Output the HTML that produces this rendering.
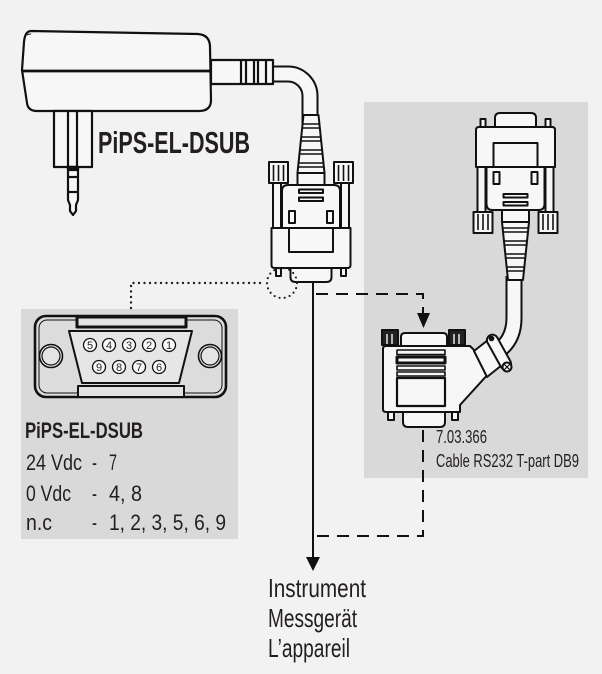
<!DOCTYPE html>
<html><head><meta charset="utf-8"><style>
html,body{margin:0;padding:0;background:#f2f2f2;}
svg{display:block;}
text{font-family:"Liberation Sans Narrow","Liberation Sans",sans-serif;fill:#231f20;}
</style></head><body>
<svg width="602" height="674" viewBox="0 0 602 674" xmlns="http://www.w3.org/2000/svg">
<rect x="0" y="0" width="602" height="674" fill="#f2f2f2"/>
<!-- panels -->
<rect x="364" y="102" width="224" height="376" fill="#d9d9d9"/>
<rect x="21" y="309" width="217" height="230" fill="#d9d9d9"/>

<!-- adapter cable -->
<path d="M268,74 H288 A22,22 0 0 1 310,96 V124" fill="none" stroke="#111" stroke-width="17"/>
<path d="M268,74 H288 A22,22 0 0 1 310,96 V124" fill="none" stroke="#f7f7f7" stroke-width="13"/>

<!-- adapter body -->
<g fill="#f7f7f7" stroke="#111" stroke-width="2.2" stroke-linejoin="round">
<path d="M31,31 L198,34 Q210,35 210,47 L211,100 Q211,111 199,111 L37,111 Q28,111 27,103 L22,70 L24,42 Q25,31 31,31 Z"/>
<path d="M27,35 Q28,34 31,34" fill="none" stroke-width="1"/>
<line x1="22" y1="71" x2="211" y2="71" stroke-width="2.8"/>
<!-- strain relief -->
<rect x="211" y="60" width="62" height="24"/>
<line x1="241" y1="60" x2="241" y2="84"/>
<line x1="246" y1="60" x2="246" y2="84"/>
<line x1="254" y1="60" x2="254" y2="84"/>
<line x1="258" y1="60" x2="258" y2="84"/>
<line x1="266" y1="60" x2="266" y2="84"/>
<!-- prong -->
<rect x="54" y="111" width="38" height="56"/>
<line x1="68" y1="111" x2="68" y2="167"/>
<line x1="77" y1="111" x2="77" y2="167"/>
<path d="M68,167 V200 L70,205 V211 L73,215 L76,211 V205 L78,200 V167 Z"/>
<rect x="68" y="167" width="10" height="3" fill="#111"/>
<line x1="68" y1="177" x2="78" y2="177"/>
<line x1="68" y1="192" x2="78" y2="192"/>
</g>

<text x="98" y="153" font-size="31" font-weight="700" textLength="152" lengthAdjust="spacingAndGlyphs">PiPS-EL-DSUB</text>

<!-- dotted connector -->
<path d="M131,308 V283 H265" fill="none" stroke="#222" stroke-width="2.4" stroke-dasharray="0 5.5" stroke-linecap="round"/>

<!-- solid line to instrument -->
<line x1="313" y1="280" x2="313" y2="560" stroke="#111" stroke-width="2"/>
<polygon points="306,557 320,557 313,571" fill="#111"/>

<!-- dashed lines -->
<g stroke="#111" stroke-width="2" fill="none" stroke-dasharray="12 8">
<path d="M316,294 H423 V316"/>
<path d="M423,430 V536 H314"/>
</g>
<polygon points="417,313 430,313 423.5,328" fill="#111"/>

<!-- left D-sub connector (plug down) -->
<g transform="translate(311,282) scale(1,-1)" fill="#f7f7f7" stroke="#111" stroke-width="2" stroke-linejoin="round">
<path d="M-13.5,109 L13.5,109 L7.5,167 L-7.5,167 Z"/>
<g stroke-width="1.5">
<line x1="-12.9" y1="115" x2="12.9" y2="115"/><line x1="-12.5" y1="119" x2="12.5" y2="119"/>
<line x1="-11.5" y1="128" x2="11.5" y2="128"/><line x1="-11.1" y1="132" x2="11.1" y2="132"/>
<line x1="-10.2" y1="141" x2="10.2" y2="141"/><line x1="-9.8" y1="145" x2="9.8" y2="145"/>
<line x1="-8.8" y1="154" x2="8.8" y2="154"/><line x1="-8.4" y1="158" x2="8.4" y2="158"/>
</g>
<rect x="-13.5" y="96" width="27" height="13"/>
<rect x="-38" y="54" width="8" height="46"/>
<rect x="30" y="54" width="8" height="46"/>
<rect x="-42" y="99" width="19" height="21"/>
<rect x="23" y="99" width="19" height="21"/>
<g stroke-width="1.6">
<line x1="-37.5" y1="101" x2="-37.5" y2="117"/><line x1="-32.5" y1="101" x2="-32.5" y2="117"/><line x1="-27.5" y1="101" x2="-27.5" y2="117"/>
<line x1="27.5" y1="101" x2="27.5" y2="117"/><line x1="32.5" y1="101" x2="32.5" y2="117"/><line x1="37.5" y1="101" x2="37.5" y2="117"/>
</g>
<path d="M-29,54 H29 V91 Q29,97 23,97 H-23 Q-29,97 -29,91 Z"/>
<rect x="-22" y="59" width="6" height="12"/>
<rect x="16" y="59" width="6" height="12"/>
<rect x="-12" y="81" width="24" height="3.5"/>
<rect x="-12" y="89" width="24" height="3.5"/>
<path d="M-39.5,54 V17 Q-39.5,14 -36.5,14 H36.5 Q39.5,14 39.5,17 V54 Z"/>
<rect x="-22" y="30" width="44" height="24"/>
<rect x="-35" y="6" width="5" height="8"/>
<rect x="30" y="6" width="5" height="8"/>
<path d="M-20.5,14 V5 Q-20.5,0 -15.5,0 H15.5 Q20.5,0 20.5,5 V14 Z"/>
</g>

<!-- dotted circle -->
<circle cx="282" cy="283" r="15" fill="none" stroke="#222" stroke-width="2.2" stroke-dasharray="0 5.2" stroke-linecap="round"/>

<!-- right cable -->
<path d="M493,354 Q514,343 514,318 V276" fill="none" stroke="#111" stroke-width="17"/>
<path d="M493,354 Q514,343 514,318 V276" fill="none" stroke="#f7f7f7" stroke-width="13"/>

<!-- right D-sub connector (plug up) -->
<g transform="translate(515.5,113)" fill="#f7f7f7" stroke="#111" stroke-width="2" stroke-linejoin="round">
<path d="M-13.5,109 L13.5,109 L7.5,167 L-7.5,167 Z"/>
<g stroke-width="1.5">
<line x1="-12.9" y1="115" x2="12.9" y2="115"/><line x1="-12.5" y1="119" x2="12.5" y2="119"/>
<line x1="-11.5" y1="128" x2="11.5" y2="128"/><line x1="-11.1" y1="132" x2="11.1" y2="132"/>
<line x1="-10.2" y1="141" x2="10.2" y2="141"/><line x1="-9.8" y1="145" x2="9.8" y2="145"/>
<line x1="-8.8" y1="154" x2="8.8" y2="154"/><line x1="-8.4" y1="158" x2="8.4" y2="158"/>
</g>
<rect x="-13.5" y="96" width="27" height="13"/>
<rect x="-38" y="54" width="8" height="46"/>
<rect x="30" y="54" width="8" height="46"/>
<rect x="-42" y="99" width="19" height="21"/>
<rect x="23" y="99" width="19" height="21"/>
<g stroke-width="1.6">
<line x1="-37.5" y1="101" x2="-37.5" y2="117"/><line x1="-32.5" y1="101" x2="-32.5" y2="117"/><line x1="-27.5" y1="101" x2="-27.5" y2="117"/>
<line x1="27.5" y1="101" x2="27.5" y2="117"/><line x1="32.5" y1="101" x2="32.5" y2="117"/><line x1="37.5" y1="101" x2="37.5" y2="117"/>
</g>
<path d="M-29,54 H29 V91 Q29,97 23,97 H-23 Q-29,97 -29,91 Z"/>
<rect x="-22" y="59" width="6" height="12"/>
<rect x="16" y="59" width="6" height="12"/>
<rect x="-12" y="81" width="24" height="3.5"/>
<rect x="-12" y="89" width="24" height="3.5"/>
<path d="M-39.5,54 V17 Q-39.5,14 -36.5,14 H36.5 Q39.5,14 39.5,17 V54 Z"/>
<rect x="-22" y="30" width="44" height="24"/>
<rect x="-35" y="6" width="5" height="8"/>
<rect x="30" y="6" width="5" height="8"/>
<path d="M-20.5,14 V5 Q-20.5,0 -15.5,0 H15.5 Q20.5,0 20.5,5 V14 Z"/>
</g>

<!-- T-part connector -->
<g fill="#f7f7f7" stroke="#111" stroke-width="2" stroke-linejoin="round">
<rect x="382" y="330" width="16" height="15" fill="#222"/>
<rect x="449" y="330" width="16" height="15" fill="#222"/>
<g stroke="#e8e8e8" stroke-width="1.5">
<line x1="387" y1="334" x2="387" y2="344"/><line x1="392" y1="334" x2="392" y2="344"/>
<line x1="454" y1="334" x2="454" y2="344"/><line x1="459" y1="334" x2="459" y2="344"/>
</g>
<path d="M401,346 V337 Q401,333 405,333 H443 Q447,333 447,337 V346 Z"/>
<path d="M386,346 H470 L478,354 L490,372 L460,405 V412 H386 Q383,412 383,409 V349 Q383,346 386,346 Z"/>
<polygon points="474,351 488,340 502,365 487,377"/>
<rect x="397" y="350" width="48" height="4.5" stroke-width="1.6"/>
<rect x="397" y="357" width="48" height="6" stroke-width="3"/>
<rect x="397" y="366" width="48" height="4" stroke-width="1.6"/>
<rect x="397" y="372" width="48" height="4" stroke-width="1.6"/>
<rect x="397" y="378" width="48" height="28" stroke-width="2.2"/>
<rect x="388" y="412" width="6" height="8"/>
<rect x="452" y="412" width="6" height="8"/>
<path d="M403,412 V422 Q403,427 408,427 H440 Q445,427 445,422 V412 Z"/>
<rect x="-19" y="-5.5" width="38" height="11" rx="5.5" transform="translate(499,352) rotate(61)"/>
<circle cx="491.5" cy="338.5" r="1.8" fill="#111"/>
<circle cx="507" cy="367" r="4.5"/>
<line x1="504" y1="364" x2="510" y2="370" stroke-width="1.2"/>
<line x1="510" y1="364" x2="504" y2="370" stroke-width="1.2"/>
</g>

<text x="436" y="443" font-size="18" textLength="51" lengthAdjust="spacingAndGlyphs">7.03.366</text>
<text x="436" y="467" font-size="18" textLength="143" lengthAdjust="spacingAndGlyphs">Cable RS232 T-part DB9</text>

<!-- DB9 pinout drawing -->
<g stroke="#111" stroke-linejoin="round">
<rect x="35" y="316" width="191" height="81" rx="11" fill="#dcdcdc" stroke-width="2.6"/>
<rect x="39" y="320" width="183" height="73" rx="8" fill="none" stroke-width="1"/>
<circle cx="51" cy="356" r="11.5" fill="#e4e4e4" stroke-width="1.6"/>
<circle cx="51" cy="356" r="9" fill="none" stroke-width="1.2"/>
<circle cx="210" cy="356" r="11.5" fill="#e4e4e4" stroke-width="1.6"/>
<circle cx="210" cy="356" r="9" fill="none" stroke-width="1.2"/>
<polygon points="69,331 192,331 179,383 82,383" fill="#e6e6e6" stroke-width="2" stroke-linejoin="round"/>
<rect x="77" y="317" width="109" height="10" fill="#e2e2e2" stroke-width="3"/>
<rect x="78" y="386" width="106" height="11" fill="#e2e2e2" stroke-width="2"/>
<g fill="#fafafa" stroke-width="1.3">
<circle cx="90" cy="345" r="6.5"/><circle cx="109" cy="345" r="6.5"/><circle cx="129" cy="345" r="6.5"/><circle cx="149" cy="345" r="6.5"/><circle cx="169" cy="345" r="6.5"/>
<circle cx="99" cy="367" r="6.5"/><circle cx="119" cy="367" r="6.5"/><circle cx="139" cy="367" r="6.5"/><circle cx="159" cy="367" r="6.5"/>
</g>
</g>
<g font-size="11" text-anchor="middle">
<text x="90" y="349">5</text><text x="109" y="349">4</text><text x="129" y="349">3</text><text x="149" y="349">2</text><text x="169" y="349">1</text>
<text x="99" y="371">9</text><text x="119" y="371">8</text><text x="139" y="371">7</text><text x="159" y="371">6</text>
</g>

<g font-size="22">
<text x="25" y="438" font-weight="700" textLength="118" lengthAdjust="spacingAndGlyphs">PiPS-EL-DSUB</text>
<text x="26" y="470" textLength="56" lengthAdjust="spacingAndGlyphs">24 Vdc</text>
<text x="92" y="470" textLength="5" lengthAdjust="spacingAndGlyphs">-</text>
<text x="109" y="470" textLength="8" lengthAdjust="spacingAndGlyphs">7</text>
<text x="26" y="501" textLength="45" lengthAdjust="spacingAndGlyphs">0 Vdc</text>
<text x="92" y="501" textLength="5" lengthAdjust="spacingAndGlyphs">-</text>
<text x="109" y="501" textLength="33" lengthAdjust="spacingAndGlyphs">4, 8</text>
<text x="26" y="530" textLength="26" lengthAdjust="spacingAndGlyphs">n.c</text>
<text x="92" y="530" textLength="5" lengthAdjust="spacingAndGlyphs">-</text>
<text x="109" y="530" textLength="117" lengthAdjust="spacingAndGlyphs">1, 2, 3, 5, 6, 9</text>
</g>

<g font-size="26">
<text x="268" y="597" textLength="98" lengthAdjust="spacingAndGlyphs">Instrument</text>
<text x="268" y="627" textLength="89" lengthAdjust="spacingAndGlyphs">Messgerät</text>
<text x="268" y="657" textLength="82" lengthAdjust="spacingAndGlyphs">L’appareil</text>
</g>
</svg>
</body></html>
